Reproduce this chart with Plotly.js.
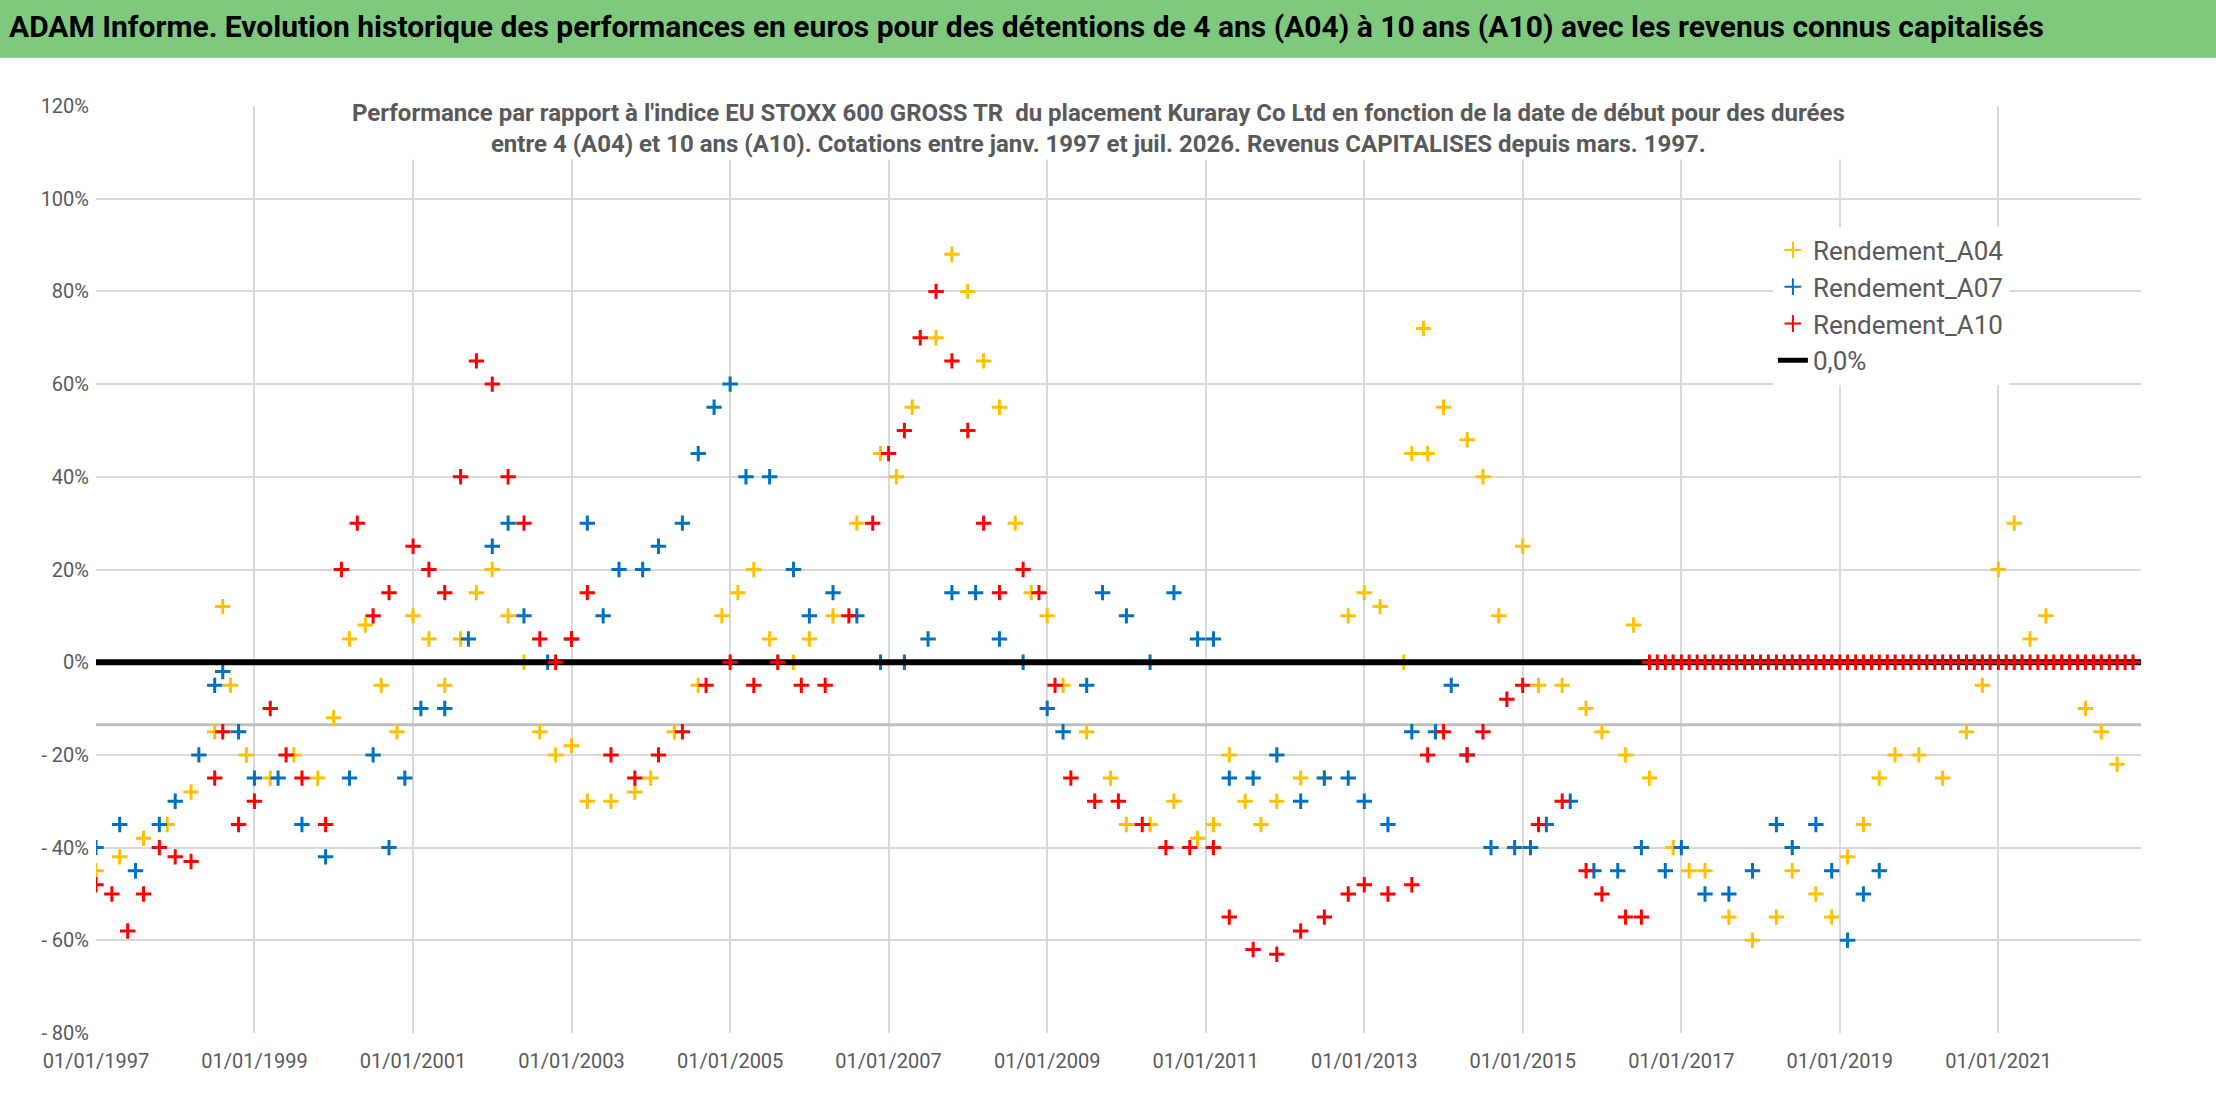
<!DOCTYPE html>
<html>
<head>
<meta charset="utf-8">
<script src="https://cdn.plot.ly/plotly-3.0.1.min.js"></script>
<style>body{margin:0;background:#fff}#chart{width:2216px;height:1102px}</style>
</head>
<body>
<div id="chart"></div>
<script>
// dates as decimal years, values in %
const a04Years = [1997.0,1997.3,1997.6,1997.9,1998.2,1998.5,1998.6,1998.7,1998.9,1999.2,1999.5,1999.8,2000.0,2000.2,2000.4,2000.6,2000.8,2001.0,2001.2,2001.4,2001.6,2001.8,2002.0,2002.2,2002.4,2002.6,2002.8,2003.0,2003.2,2003.5,2003.8,2004.0,2004.3,2004.6,2004.9,2005.1,2005.3,2005.5,2005.8,2006.0,2006.3,2006.6,2006.9,2007.1,2007.3,2007.6,2007.8,2008.0,2008.2,2008.4,2008.6,2008.8,2009.0,2009.2,2009.5,2009.8,2010.0,2010.3,2010.6,2010.9,2011.1,2011.3,2011.5,2011.7,2011.9,2012.2,2012.5,2012.8,2013.0,2013.2,2013.5,2013.6,2013.75,2013.8,2014.0,2014.3,2014.5,2014.7,2015.0,2015.2,2015.5,2015.8,2016.0,2016.3,2016.4,2016.6,2016.9,2017.1,2017.3,2017.6,2017.9,2018.2,2018.4,2018.7,2018.9,2019.1,2019.3,2019.5,2019.7,2020.0,2020.3,2020.6,2020.8,2021.0,2021.2,2021.4,2021.6,2021.8,2022.1,2022.3,2022.5];
const a04Vals  = [-45,-42,-38,-35,-28,-15,12,-5,-20,-25,-20,-25,-12,5,8,-5,-15,10,5,-5,5,15,20,10,0,-15,-20,-18,-30,-30,-28,-25,-15,-5,10,15,20,5,0,5,10,30,45,40,55,70,88,80,65,55,30,15,10,-5,-15,-25,-35,-35,-30,-38,-35,-20,-30,-35,-30,-25,-25,10,15,12,0,45,72,45,55,48,40,10,25,-5,-5,-10,-15,-20,8,-25,-40,-45,-45,-55,-60,-55,-45,-50,-55,-42,-35,-25,-20,-20,-25,-15,-5,20,30,5,10,0,-10,-15,-22];

const a07Years = [1997.0,1997.3,1997.5,1997.8,1998.0,1998.3,1998.5,1998.6,1998.8,1999.0,1999.3,1999.6,1999.9,2000.2,2000.5,2000.7,2000.9,2001.1,2001.4,2001.7,2002.0,2002.2,2002.4,2002.7,2003.0,2003.2,2003.4,2003.6,2003.9,2004.1,2004.4,2004.6,2004.8,2005.0,2005.2,2005.5,2005.8,2006.0,2006.3,2006.6,2006.9,2007.2,2007.5,2007.8,2008.1,2008.4,2008.7,2009.0,2009.2,2009.5,2009.7,2010.0,2010.3,2010.6,2010.9,2011.1,2011.3,2011.6,2011.9,2012.2,2012.5,2012.8,2013.0,2013.3,2013.6,2013.9,2014.1,2014.3,2014.6,2014.9,2015.1,2015.3,2015.6,2015.9,2016.2,2016.5,2016.8,2017.0,2017.3,2017.6,2017.9,2018.2,2018.4,2018.7,2018.9,2019.1,2019.3,2019.5];
const a07Vals  = [-40,-35,-45,-35,-30,-20,-5,-2,-15,-25,-25,-35,-42,-25,-20,-40,-25,-10,-10,5,25,30,10,0,5,30,10,20,20,25,30,45,55,60,40,40,20,10,15,10,0,0,5,15,15,5,0,-10,-15,-5,15,10,0,15,5,5,-25,-25,-20,-30,-25,-25,-30,-35,-15,-15,-5,-20,-40,-40,-40,-35,-30,-45,-45,-40,-45,-40,-50,-50,-45,-35,-40,-35,-45,-60,-50,-45];

const a10Years = [1997.0,1997.2,1997.4,1997.6,1997.8,1998.0,1998.2,1998.5,1998.6,1998.8,1999.0,1999.2,1999.4,1999.6,1999.9,2000.1,2000.3,2000.5,2000.7,2001.0,2001.2,2001.4,2001.6,2001.8,2002.0,2002.2,2002.4,2002.6,2002.8,2003.0,2003.2,2003.5,2003.8,2004.1,2004.4,2004.7,2005.0,2005.3,2005.6,2005.9,2006.2,2006.5,2006.8,2007.0,2007.2,2007.4,2007.6,2007.8,2008.0,2008.2,2008.4,2008.7,2008.9,2009.1,2009.3,2009.6,2009.9,2010.2,2010.5,2010.8,2011.1,2011.3,2011.6,2011.9,2012.2,2012.5,2012.8,2013.0,2013.3,2013.6,2013.8,2014.0,2014.3,2014.5,2014.8,2015.0,2015.2,2015.5,2015.8,2016.0,2016.3,2016.5,
  2016.6,2016.7,2016.8,2016.9,2017.0,2017.1,2017.2,2017.3,2017.4,2017.5,2017.6,2017.7,2017.8,2017.9,2018.0,2018.1,2018.2,2018.3,2018.4,2018.5,2018.6,2018.7,2018.8,2018.9,2019.0,2019.1,2019.2,2019.3,2019.4,2019.5,2019.6,2019.7,2019.8,2019.9,2020.0,2020.1,2020.2,2020.3,2020.4,2020.5,2020.6,2020.7,2020.8,2020.9,2021.0,2021.1,2021.2,2021.3,2021.4,2021.5,2021.6,2021.7,2021.8,2021.9,2022.0,2022.1,2022.2,2022.3,2022.4,2022.5,2022.6,2022.7];
const a10Vals  = [-48,-50,-58,-50,-40,-42,-43,-25,-15,-35,-30,-10,-20,-25,-35,20,30,10,15,25,20,15,40,65,60,40,30,5,0,5,15,-20,-25,-20,-15,-5,0,-5,0,-5,-5,10,30,45,50,70,80,65,50,30,15,20,15,-5,-25,-30,-30,-35,-40,-40,-40,-55,-62,-63,-58,-55,-50,-48,-50,-48,-20,-15,-20,-15,-8,-5,-35,-30,-45,-50,-55,-55,
  0,0,0,0,0,0,0,0,0,0,0,0,0,0,0,0,0,0,0,0,0,0,0,0,0,0,0,0,0,0,0,0,0,0,0,0,0,0,0,0,0,0,0,0,0,0,0,0,0,0,0,0,0,0,0,0,0,0,0,0,0,0,0];

const zeroYears = [1997.0, 2022.8];
const zeroVals = [0, 0];
const greyYears = [1997.0, 2022.8];
const greyVals = [-13.5, -13.5];

function toDate(y) {
  const yr = Math.floor(y);
  const ms = Date.UTC(yr, 0, 1) + (y - yr) * 365.25 * 86400000;
  return new Date(ms).toISOString().slice(0, 10);
}

const font = 'Liberation Sans Narrow, Roboto, Arial Narrow, sans-serif';
const mk = c => ({symbol: 'cross-thin-open', size: 11, line: {color: c, width: 3}, color: c});

const data = [
  {x: greyYears.map(toDate), y: greyVals, mode: 'lines', line: {color: '#bfbfbf', width: 3}, showlegend: false, hoverinfo: 'skip'},
  {x: a04Years.map(toDate), y: a04Vals, name: 'Rendement_A04', legendrank: 1, mode: 'markers', type: 'scatter', marker: mk('#ffc000')},
  {x: a07Years.map(toDate), y: a07Vals, name: 'Rendement_A07', legendrank: 2, mode: 'markers', type: 'scatter', marker: mk('#0070c0')},
  {x: zeroYears.map(toDate), y: zeroVals, name: '0,0%', legendrank: 4, mode: 'lines', line: {color: '#000', width: 6}},
  {x: a10Years.map(toDate), y: a10Vals, name: 'Rendement_A10', legendrank: 3, mode: 'markers', type: 'scatter', marker: mk('#ff0000')}
];

const layout = {
  width: 2216, height: 1102,
  paper_bgcolor: '#fff', plot_bgcolor: '#fff',
  margin: {l: 96, r: 75, t: 106, b: 69},
  font: {family: font, color: '#595959'},
  showlegend: true,
  legend: {x: 0.82, y: 0.87, xanchor: 'left', yanchor: 'top', bgcolor: '#fff',
           font: {size: 26, color: '#595959', family: font}, tracegroupgap: 36,
           traceorder: 'grouped', itemsizing: 'constant'},
  xaxis: {type: 'date', range: [toDate(1997.0), toDate(2022.8)], tick0: '1997-01-01', dtick: 'M24',
          tickformat: '%d/%m/%Y', showgrid: true, gridcolor: '#d9d9d9', gridwidth: 1.5,
          zeroline: false, showline: false, ticks: '', ticklabelstandoff: 14,
          tickfont: {size: 20, color: '#595959'}},
  yaxis: {range: [-80, 120], tickvals: [-80,-60,-40,-20,0,20,40,60,80,100,120],
          ticktext: ['- 80%','- 60%','- 40%','- 20%','0%','20%','40%','60%','80%','100%','120%'],
          showgrid: true, gridcolor: '#d9d9d9', gridwidth: 2, zeroline: false, ticklabelstandoff: 6,
          tickfont: {size: 20, color: '#595959'}},
  shapes: [
    {type: 'rect', xref: 'paper', yref: 'paper', x0: -0.05, x1: 1.04, y0: 1.052, y1: 1.12,
     fillcolor: '#7fc97f', line: {width: 0}, layer: 'above'}
  ],
  annotations: [
    {xref: 'paper', yref: 'paper', x: 0.455, y: 1.086, xanchor: 'center', yanchor: 'middle', showarrow: false,
     text: '<b>ADAM Informe. Evolution historique des performances en euros pour des détentions de 4 ans (A04) à 10 ans (A10) avec les revenus connus capitalisés</b>',
     font: {size: 30, color: '#000', family: font}},
    {xref: 'paper', yref: 'paper', x: 0.49, y: 1.01, xanchor: 'center', yanchor: 'top', showarrow: false,
     bgcolor: '#fff', align: 'center',
     text: "<b>Performance par rapport à l'indice EU STOXX 600 GROSS TR  du placement Kuraray Co Ltd en fonction de la date de début pour des durées<br>entre 4 (A04) et 10 ans (A10). Cotations entre janv. 1997 et juil. 2026. Revenus CAPITALISES depuis mars. 1997.</b>",
     font: {size: 24, color: '#595959', family: font}}
  ]
};

Plotly.newPlot('chart', data, layout, {displayModeBar: false});
</script>
</body>
</html>
